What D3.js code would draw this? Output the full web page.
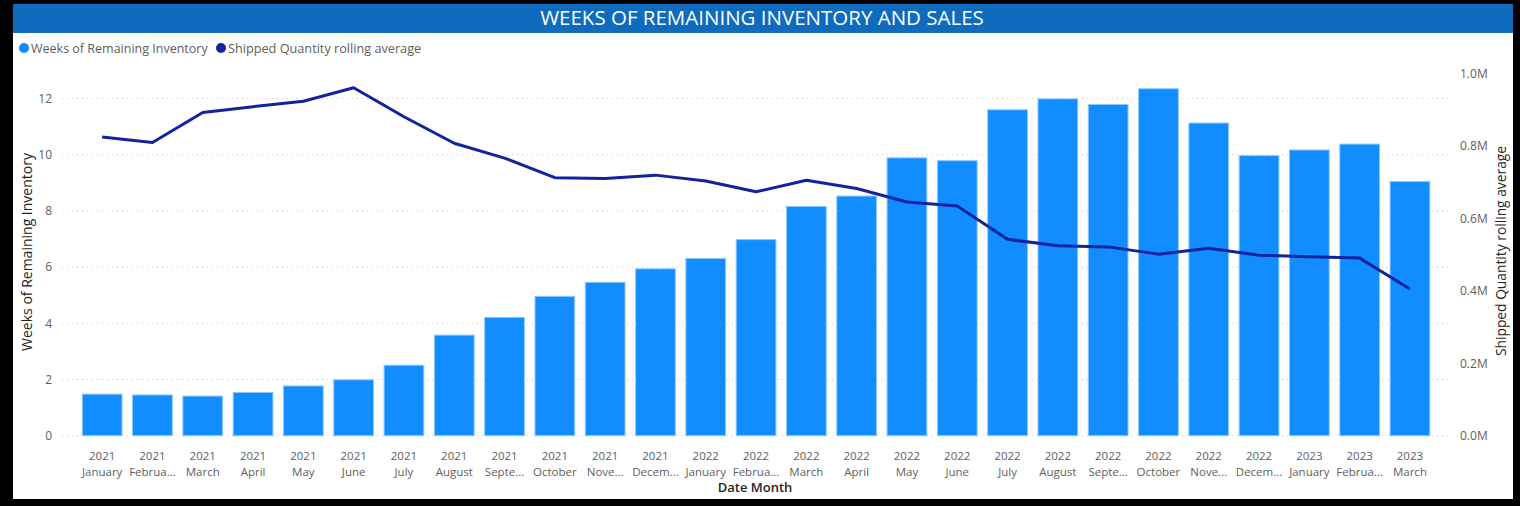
<!DOCTYPE html>
<html><head><meta charset="utf-8">
<script src="https://cdn.jsdelivr.net/npm/d3@7"></script>
<style>
html,body{margin:0;padding:0;background:#000;}
svg{display:block;}
text{font-family:"Open Sans","Noto Sans",sans-serif;}
</style></head>
<body>
<svg id="chart" width="1520" height="506"></svg>
<script>
const years = ["2021","2021","2021","2021","2021","2021","2021","2021","2021","2021","2021","2021",
  "2022","2022","2022","2022","2022","2022","2022","2022","2022","2022","2022","2022","2023","2023","2023"];
const months = ["January","Februa...","March","April","May","June","July","August","Septe...","October","Nove...","Decem...",
  "January","Februa...","March","April","May","June","July","August","Septe...","October","Nove...","Decem...",
  "January","Februa...","March"];
const weeksInventory = [1.48,1.45,1.41,1.54,1.77,1.99,2.51,3.58,4.21,4.96,5.46,5.94,
  6.31,6.98,8.16,8.53,9.89,9.79,11.60,11.99,11.79,12.35,11.13,9.97,10.17,10.38,9.05];
const shippedRolling = [824000,809000,892000,908000,923000,960000,880000,807000,766000,712000,710000,719000,
  703000,673000,705000,682000,645000,634000,542000,524000,521000,501000,517000,498000,494000,490000,405000];
const leftTicks = [0,2,4,6,8,10,12];
const rightTicks = [0,200000,400000,600000,800000,1000000];
const titleText = "WEEKS OF REMAINING INVENTORY AND SALES";
const seriesNames = ["Weeks of Remaining Inventory","Shipped Quantity rolling average"];

const svg = d3.select("#chart");
const barColor = "#118DFF", lineColor = "#12239E";
const tickColor = "#605E5C", titleColor = "#252423";

// card
svg.append("rect").attr("x",13).attr("y",4).attr("width",1500).attr("height",495).attr("fill","#fff");
svg.append("rect").attr("x",13).attr("y",4).attr("width",1500).attr("height",29).attr("fill","#0F6BBE");
svg.append("text").attr("x",762).attr("y",24.5).attr("text-anchor","middle")
  .attr("fill","#fff").style("font-size","20.5px").text(titleText);

const idx = d3.range(years.length);
const x = d3.scaleBand().domain(idx).range([77,1435.1]).paddingInner(0.21).paddingOuter(0.105);
const yL = d3.scaleLinear().domain([0,12.9]).range([435.7,73.3]);
const yR = d3.scaleLinear().domain([0,1000000]).range([435.7,73.3]);

// gridlines
svg.append("g").selectAll("line").data(leftTicks).join("line")
  .attr("x1",62).attr("x2",1450).attr("y1",d=>yL(d)).attr("y2",d=>yL(d))
  .attr("stroke","#c8c8c8").attr("stroke-width",1).attr("stroke-dasharray","1,4");

// left axis
const axL = svg.append("g").attr("transform","translate(60,0)")
  .call(d3.axisLeft(yL).tickValues(leftTicks).tickSize(0).tickPadding(8).tickFormat(d3.format("d")));
axL.select(".domain").remove();
axL.selectAll("text").attr("fill",tickColor).style("font-size","12px").style("font-family","'Open Sans',sans-serif");

// right axis
const axR = svg.append("g").attr("transform","translate(1456,0)")
  .call(d3.axisRight(yR).tickValues(rightTicks).tickSize(0).tickPadding(4).tickFormat(d=>(d/1e6).toFixed(1)+"M"));
axR.select(".domain").remove();
axR.selectAll("text").attr("fill",tickColor).style("font-size","12px").style("font-family","'Open Sans',sans-serif");

// bars
svg.append("g").selectAll("rect").data(weeksInventory).join("rect")
  .attr("x",(d,i)=>x(i)).attr("width",x.bandwidth())
  .attr("y",d=>yL(d)).attr("height",d=>yL(0)-yL(d))
  .attr("fill",barColor).attr("stroke","#8cc8ff").attr("stroke-width",1);

// line
const line = d3.line().x((d,i)=>x(i)+x.bandwidth()/2).y(d=>yR(d));
svg.append("path").datum(shippedRolling).attr("d",line)
  .attr("fill","none").attr("stroke",lineColor).attr("stroke-width",3).attr("stroke-linejoin","round");

// x labels
const xl = svg.append("g").selectAll("text").data(idx).join("text")
  .attr("text-anchor","middle").attr("fill",tickColor).style("font-size","11.5px");
xl.append("tspan").attr("x",i=>x(i)+x.bandwidth()/2).attr("y",460).text(i=>years[i]);
xl.append("tspan").attr("x",i=>x(i)+x.bandwidth()/2).attr("y",476).text(i=>months[i]);

// axis titles
svg.append("text").attr("x",755).attr("y",492).attr("text-anchor","middle")
  .attr("fill",titleColor).style("font-size","13px").style("font-weight","600").text("Date Month");
svg.append("text").attr("transform","translate(32,252) rotate(-90)").attr("text-anchor","middle")
  .attr("fill",titleColor).style("font-size","14px").text(seriesNames[0]);
svg.append("text").attr("transform","translate(1506,251) rotate(-90)").attr("text-anchor","middle")
  .attr("fill",titleColor).style("font-size","13.8px").text(seriesNames[1]);

// legend
const lg = svg.append("g");
lg.append("circle").attr("cx",24).attr("cy",48).attr("r",5).attr("fill",barColor);
lg.append("text").attr("x",31).attr("y",52.5).attr("fill",tickColor).style("font-size","12.5px").text(seriesNames[0]);
lg.append("circle").attr("cx",221).attr("cy",48).attr("r",5).attr("fill",lineColor);
lg.append("text").attr("x",228).attr("y",52.5).attr("fill",tickColor).style("font-size","12.7px").text(seriesNames[1]);
</script>
</body></html>
